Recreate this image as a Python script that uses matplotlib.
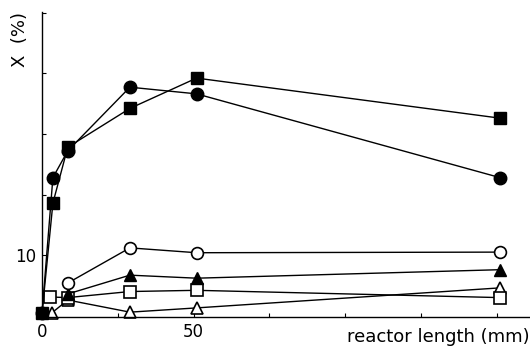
import numpy as np
import matplotlib.pyplot as plt

# reactor length (mm) and conversion X (%)
x_fill_sq = [0, 3.6, 8.5, 29, 51, 151]
y_fill_sq = [5.2, 14.3, 18.9, 22.1, 24.6, 21.3]

x_fill_ci = [0, 3.6, 8.5, 29, 51, 151]
y_fill_ci = [5.2, 16.4, 18.6, 23.85, 23.3, 16.4]

x_open_ci = [8.5, 29, 51, 151]
y_open_ci = [7.7, 10.6, 10.2, 10.25]

x_fill_tr = [8.5, 29, 51, 151]
y_fill_tr = [6.8, 8.35, 8.1, 8.8]

x_open_sq = [2.7, 8.5, 29, 51, 151]
y_open_sq = [6.55, 6.5, 7.0, 7.1, 6.5]

x_open_tr = [3.3, 8.5, 29, 51, 151]
y_open_tr = [5.25, 6.3, 5.3, 5.65, 7.3]

xticks = [0, 25, 50, 75, 100, 125, 150]
xticklabels = ['0', '', '50', '', '', '', '']
yticks = [5, 10, 15, 20, 25, 30]
yticklabels = ['', '10', '', '', '', '']

plt.rcParams['font.family'] = ['DejaVu Sans']

fig = plt.figure(figsize=(5.3, 3.5), dpi=100)
ax = fig.add_axes([42/530, 33/350, 488/530, 305/350])

ms = 8.5
kw = dict(color='black', lw=1.0, clip_on=False)
ax.plot(x_open_tr, y_open_tr, marker='^', mfc='white', mec='black', mew=1.2, ms=ms, **kw)
ax.plot(x_open_sq, y_open_sq, marker='s', mfc='white', mec='black', mew=1.2, ms=ms-0.5, **kw)
ax.plot(x_fill_tr, y_fill_tr, marker='^', mfc='black', mec='black', ms=ms, **kw)
ax.plot(x_open_ci, y_open_ci, marker='o', mfc='white', mec='black', mew=1.2, ms=ms, **kw)
ax.plot(x_fill_ci, y_fill_ci, marker='o', mfc='black', mec='black', ms=ms+0.5, **kw)
ax.plot(x_fill_sq, y_fill_sq, marker='s', mfc='black', mec='black', ms=ms, **kw)

ax.set_xlim(0, 161)
ax.set_ylim(4.9, 30.05)
ax.spines['top'].set_visible(False)
ax.spines['right'].set_visible(False)
ax.spines['left'].set_linewidth(1.0)
ax.spines['bottom'].set_linewidth(1.0)

ax.set_xticks(xticks)
ax.set_xticklabels(xticklabels, fontsize=12)
ax.set_yticks(yticks)
ax.set_yticklabels(yticklabels, fontsize=12)
ax.tick_params(direction='in', length=3, width=0.8, pad=4)

ax.text(1.0, -0.035, 'reactor length (mm)', transform=ax.transAxes,
        ha='right', va='top', fontsize=13)
fig.text(20/530, 1 - 12/350, 'X  (%)', rotation=90, ha='center', va='top', fontsize=13)

fig.savefig('out.png', dpi=100)
